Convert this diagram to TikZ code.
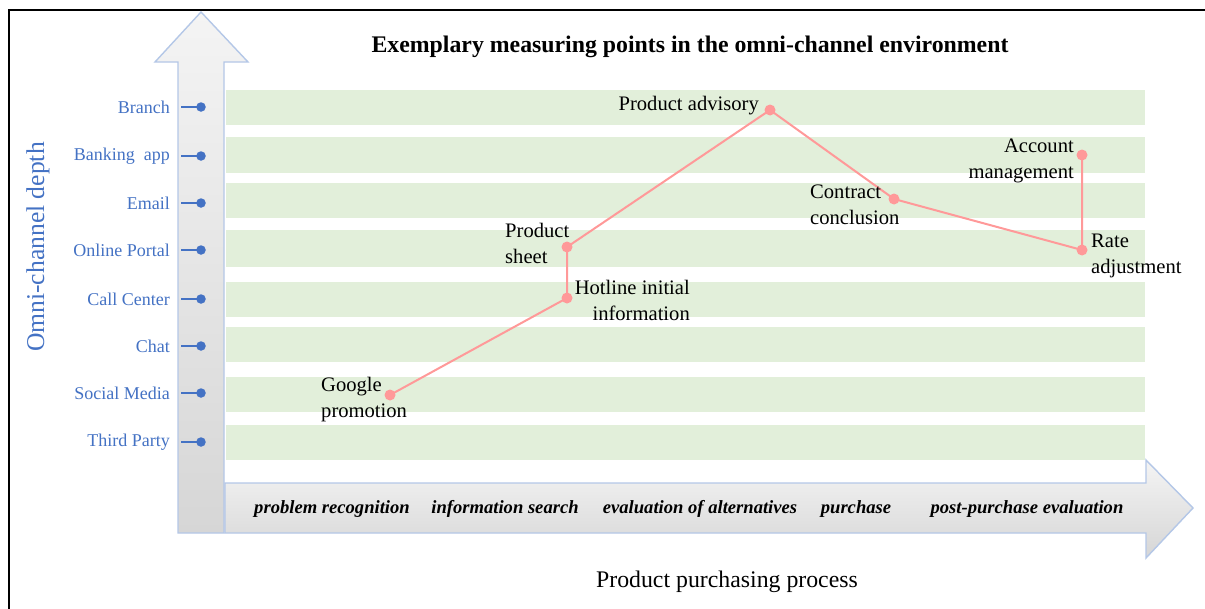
\documentclass[tikz,border=0pt]{standalone}
\usepackage{fontspec}
\setmainfont{Liberation Serif}
\definecolor{chblue}{HTML}{4472C4}
\definecolor{band}{HTML}{E2EFDA}
\definecolor{arrowedge}{HTML}{B4C7E7}
\definecolor{arrowtop}{HTML}{F4F4F4}
\definecolor{arrowbot}{HTML}{D6D6D6}
\definecolor{journey}{HTML}{FF9999}
\tikzset{
  axisarrow/.style={draw=arrowedge, line width=1.4pt, line join=miter},
  bandrow/.style={fill=band},
  chlabel/.style={anchor=east, text=chblue, font=\fontsize{18}{20}\selectfont, inner sep=0pt},
  chdot/.style={circle, fill=chblue, minimum size=9.5pt, inner sep=0pt},
  chtick/.style={draw=chblue, line width=2.6pt},
  jdot/.style={circle, fill=journey, minimum size=11pt, inner sep=0pt},
  jline/.style={draw=journey, line width=2pt},
  jlabel/.style={font=\fontsize{20.6}{26}\selectfont, inner sep=0pt},
  stage/.style={font=\fontsize{18.6}{20}\selectfont\bfseries\itshape, inner sep=0pt},
}
\begin{document}
\begin{tikzpicture}[x=1pt,y=-1pt]
\useasboundingbox (0,0) rectangle (1205,608);
\clip (0,0) rectangle (1205,608);
\fill[white] (0,0) rectangle (1205,608);

% outer frame
\draw[line width=2.8pt] (9,640) -- (9,10) -- (1240,10);

% vertical axis arrow
\path[axisarrow, top color=arrowtop, bottom color=arrowbot]
  (178,533) -- (178,62) -- (155,62) -- (201,12) -- (248,62) -- (224,62) -- (224,533) -- cycle;
% horizontal axis arrow
\path[axisarrow, top color=arrowtop, bottom color=arrowbot]
  (225,483) -- (1146,483) -- (1146,460) -- (1193,508) -- (1146,558) -- (1146,533) -- (225,533) -- cycle;

% channel rows
\foreach \t/\b in {90/125, 137/173, 183/218, 230/267, 282/317, 327/362, 377/412, 425/460}
  \fill[bandrow] (226,\t) rectangle (1145,\b);

% channel labels and ticks
\foreach \n/\y/\txt in {1/107/Branch, 2/156/Banking\ \ app, 3/203/Email, 4/250/Online Portal,
                        5/299/Call Center, 6/346/Chat, 7/393/Social Media, 8/442/Third Party} {
  \node[chlabel] (cl\n) at (170,\y) {\txt};
  \coordinate (ct\n) at (181,\y);
  \node[chdot] (cd\n) at (201,\y) {};
  \draw[chtick] (ct\n) -- (cd\n.center);
}

% title and axis names
\node[font=\fontsize{23.8}{26}\selectfont\bfseries] (title) at (690,47)
  {Exemplary measuring points in the omni-channel environment};
\node[font=\fontsize{25.6}{28}\selectfont, text=chblue, rotate=90] (ylab) at (38,247) {Omni-channel depth};
\node[font=\fontsize{23.8}{26}\selectfont] (xlab) at (727,582) {Product purchasing process};

% process stages
\node[stage] (s1) at (332,509) {problem recognition};
\node[stage] (s2) at (505,509) {information search};
\node[stage] (s3) at (700,509) {evaluation of alternatives};
\node[stage] (s4) at (856,509) {purchase};
\node[stage] (s5) at (1027,509) {post-purchase evaluation};

% measuring points
\coordinate (google) at (390,395);
\coordinate (hotline) at (567,298);
\coordinate (sheet) at (567,247);
\coordinate (advisory) at (770,110);
\coordinate (contract) at (894,199);
\coordinate (rate) at (1082,250);
\coordinate (account) at (1082,155);
\draw[jline] (google) -- (hotline) -- (sheet) -- (advisory) -- (contract) -- (rate) -- (account);
\foreach \p in {google, hotline, sheet, advisory, contract, rate, account}
  \node[jdot] (dot-\p) at (\p) {};

\node[jlabel, anchor=west, align=left] (l-google) at (321,400) {Google\\promotion};
\node[jlabel, anchor=east, align=right] (l-hotline) at (690,300) {Hotline initial\\information};
\node[jlabel, anchor=west, align=left] (l-sheet) at (505,243) {Product\\sheet};
\node[jlabel, anchor=east] (l-advisory) at (759,106) {Product advisory};
\node[jlabel, anchor=west, align=left] (l-contract) at (810,205) {Contract\\conclusion};
\node[jlabel, anchor=east, align=right] (l-account) at (1074,161) {Account\\management};
\node[jlabel, anchor=west, align=left] (l-rate) at (1091,256) {Rate\\adjustment};
\end{tikzpicture}
\end{document}
